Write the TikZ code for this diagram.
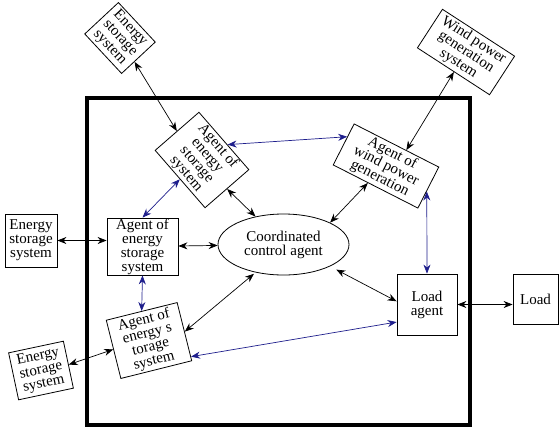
\documentclass[tikz,border=0pt]{standalone}
\usepackage{fontspec}
\setmainfont{Liberation Serif}
\usetikzlibrary{arrows.meta,shapes.geometric}
\definecolor{navy}{RGB}{30,30,140}
\begin{document}
\begin{tikzpicture}[x=1pt,y=-1pt,
  box/.style={draw,line width=0.8pt,align=center,inner sep=0pt,fill=white,
    font=\fontsize{15}{14}\selectfont},
  bi/.style={{Stealth[length=9pt,width=7pt]}-{Stealth[length=9pt,width=7pt]},line width=0.7pt},
  bb/.style={bi,draw=navy,color=navy}]
\fill[white] (0,0) rectangle (560,432);
\useasboundingbox (0,0) rectangle (560,432);
\node[draw,line width=3.5pt,minimum width=383pt,minimum height=327pt,inner sep=0pt] (frame) at (278.5,261.5) {};
% nodes
\node[box,minimum width=54pt,minimum height=46pt,rotate=-47] (esTL) at (120,38) {Energy\\storage\\system};
\node[box,minimum width=86pt,minimum height=46pt,rotate=-33] (wps) at (466,52) {Wind power\\generation\\system};
\node[box,minimum width=76pt,minimum height=58pt,rotate=-49] (agES1) at (202,160) {Agent of\\energy\\storage\\system};
\node[box,minimum width=95pt,minimum height=46pt,rotate=-27] (agW) at (386,166) {Agent of\\wind power\\generation};
\node[box,minimum width=71pt,minimum height=57pt] (agESL) at (142.5,246.5) {Agent of\\energy\\storage\\system};
\node[box,ellipse,minimum width=131pt,minimum height=61pt] (cca) at (283.5,244.5) {Coordinated\\control agent};
\node[box,minimum width=60pt,minimum height=61pt] (la) at (427,304.5) {Load\\agent};
\node[box,minimum width=45pt,minimum height=50pt] (load) at (535.5,299) {Load};
\node[box,minimum width=52pt,minimum height=53pt] (esL) at (31,240.5) {Energy\\storage\\system};
\node[box,minimum width=73pt,minimum height=60pt,rotate=14] (agESB) at (149,340.5) {Agent of\\energy s\\torage\\system};
\node[box,minimum width=56pt,minimum height=48pt,rotate=12] (esBL) at (41,370.5) {Energy\\storage\\system};
% black connectors
\draw[bi] (esTL) -- (agES1.west);
\draw[bi] (wps) -- (agW.65);
\draw[bi] (esL) -- (esL -| agESL.west);
\draw[bi] (agESL) -- (cca);
\draw[bi] (agES1.east) -- (cca.135);
\draw[bi] (agW.-110) -- (cca.north east);
\draw[bi,shorten <=7pt] (cca.south east) -- (la.174);
\draw[bi,shorten <=2pt] (cca.-135) -- (agESB.east);
\draw[bi] (esBL.east) -- (agESB.west);
\draw[bi] (la) -- (la -| load.west);
% blue connectors
\draw[bb] (agES1.80) -- (agW.170);
\draw[bb] (agES1.south) -- (agESL.north);
\draw[bb] (agESL.south) -- (agESB.north);
\draw[bb] (agW.-5) -- (la.north);
\draw[bb] (agESB.-35) -- (la.210);
\end{tikzpicture}
\end{document}
